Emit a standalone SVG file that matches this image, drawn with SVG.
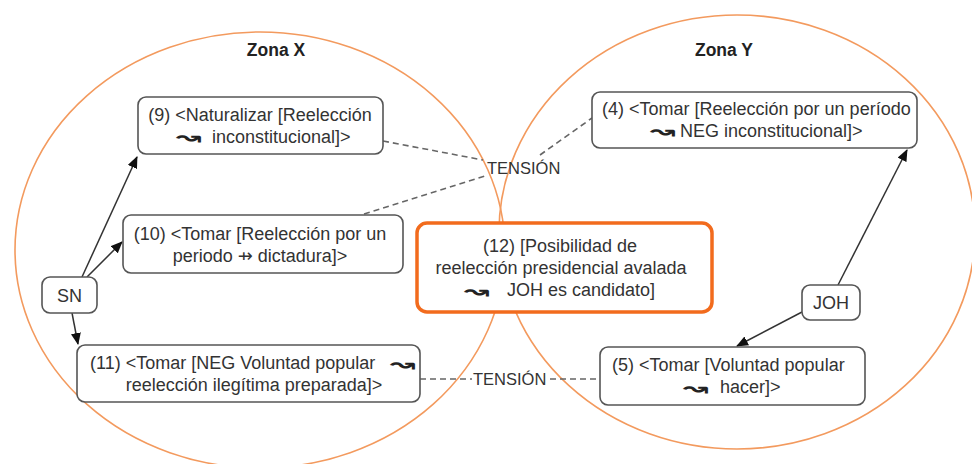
<svg xmlns="http://www.w3.org/2000/svg" width="972" height="464" viewBox="0 0 972 464">
<defs>
<marker id="ah" markerWidth="12" markerHeight="10" refX="11" refY="5" orient="auto" markerUnits="userSpaceOnUse">
<path d="M0,0 L12,5 L0,10 Z" fill="#111"/>
</marker>
<style>
.zone{fill:none;stroke:#F39A5E;stroke-width:1.6}
.box{fill:#fff;stroke:#555;stroke-width:1.6}
.hl{fill:#fff;stroke:#F26B1D;stroke-width:3.5}
.t{font-family:"Liberation Sans","DejaVu Sans",Arial,sans-serif;font-size:18px;fill:#333}
.tm{text-anchor:middle}
.sym{font-family:"DejaVu Sans",sans-serif;font-size:21px;font-weight:bold;fill:#222}
.zl{font-family:"Liberation Sans",Arial,sans-serif;font-size:17.5px;font-weight:bold;fill:#222;text-anchor:middle}
.ts{font-family:"Liberation Sans",Arial,sans-serif;font-size:16.5px;fill:#333}
.arr{fill:none;stroke:#333;stroke-width:1.5;marker-end:url(#ah)}
.dash{fill:none;stroke:#666;stroke-width:1.6;stroke-dasharray:6 4}
</style>
</defs>
<rect width="972" height="464" fill="#fff"/>
<g id="zones">
<ellipse class="zone" cx="260" cy="250" rx="245" ry="218"/>
<ellipse class="zone" cx="737" cy="232" rx="238" ry="217"/>
<text class="zl" x="276" y="56">Zona X</text>
<text class="zl" x="724" y="56">Zona Y</text>
</g>
<g id="connectors">
<path class="arr" d="M82,277 L137,157"/>
<path class="arr" d="M87,277 L122,242"/>
<path class="arr" d="M72,313 L78,344"/>
<path class="arr" d="M838,285 L907,150"/>
<path class="arr" d="M802,312 L737,346"/>
<path class="dash" d="M383,141 L483,160"/>
<path class="dash" d="M364,214 L485,176"/>
<path class="dash" d="M540,155 L592,118"/>
<path class="dash" d="M420,379 L472,379"/>
<path class="dash" d="M550,379 L600,379"/>
<text class="ts" x="487" y="174">TENSIÓN</text>
<text class="ts" x="473" y="385">TENSIÓN</text>
</g>
<g id="n9">
<rect class="box" x="138" y="97" width="245" height="57" rx="8"/>
<text class="t tm" x="260" y="120.5">(9) &lt;Naturalizar [Reelección</text>
<text class="sym" transform="translate(176,144) scale(1.45,1)">↝</text>
<text class="t" x="212" y="142.5">inconstitucional]&gt;</text>
</g>
<g id="n10">
<rect class="box" x="123" y="215" width="280" height="58" rx="8"/>
<text class="t tm" x="260" y="239.5">(10) &lt;Tomar [Reelección por un</text>
<text class="t tm" x="260" y="262">periodo ⇸ dictadura]&gt;</text>
</g>
<g id="n11">
<rect class="box" x="77" y="345" width="343" height="57" rx="8"/>
<text class="t" x="90" y="369">(11) &lt;Tomar [NEG Voluntad popular</text>
<text class="sym" transform="translate(390,370.5) scale(1.45,1)">↝</text>
<text class="t tm" x="254" y="391">reelección ilegítima preparada]&gt;</text>
</g>
<g id="n12">
<rect class="hl" x="417" y="223" width="295" height="89" rx="10"/>
<text class="t tm" x="560" y="252">(12) [Posibilidad de</text>
<text class="t tm" x="561" y="274">reelección presidencial avalada</text>
<text class="sym" transform="translate(464,297.5) scale(1.45,1)">↝</text>
<text class="t" x="507" y="296">JOH es candidato]</text>
</g>
<g id="n4">
<rect class="box" x="592" y="92" width="325" height="56" rx="8"/>
<text class="t" x="602" y="114.5">(4) &lt;Tomar [Reelección por un período</text>
<text class="sym" transform="translate(650,138) scale(1.45,1)">↝</text>
<text class="t" x="680" y="136.5">NEG inconstitucional]&gt;</text>
</g>
<g id="n5">
<rect class="box" x="600" y="347" width="265" height="58" rx="8"/>
<text class="t" x="612" y="371">(5) &lt;Tomar [Voluntad popular</text>
<text class="sym" transform="translate(683,394.5) scale(1.45,1)">↝</text>
<text class="t" x="720" y="393">hacer]&gt;</text>
</g>
<g id="sn">
<rect class="box" x="42" y="277" width="55" height="36" rx="8"/>
<text class="t tm" x="69.5" y="301.5">SN</text>
</g>
<g id="joh">
<rect class="box" x="802" y="285" width="58" height="35" rx="8"/>
<text class="t tm" x="831" y="309">JOH</text>
</g>
</svg>
